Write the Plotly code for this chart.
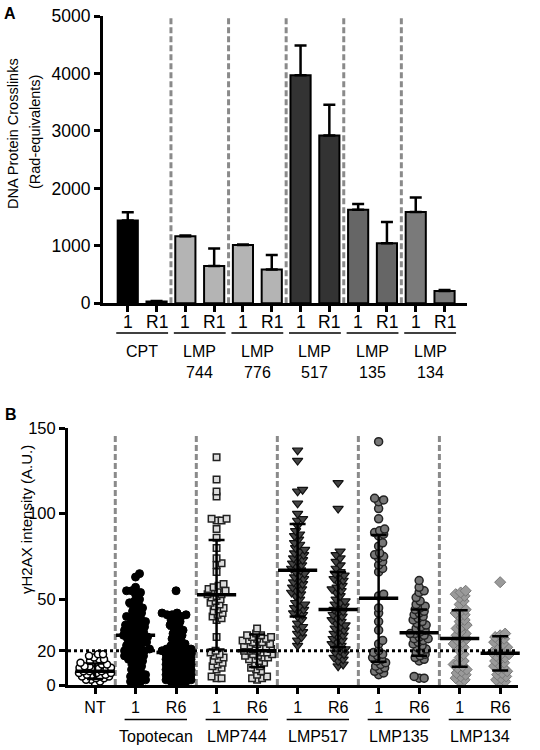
import plotly.graph_objects as go

# ---------------- Panel A data ----------------
a_labels = ["1", "R1"] * 6
a_groups = ["CPT", "LMP<br>744", "LMP<br>776", "LMP<br>517", "LMP<br>135", "LMP<br>134"]
a_values = [1440, 30, 1165, 650, 1015, 590, 3970, 2920, 1630, 1045, 1590, 215]
a_err = [145, 10, 15, 305, 10, 250, 515, 535, 100, 370, 250, 15]
a_group_colors = ["#000000", "#b4b4b4", "#b4b4b4", "#333333", "#666666", "#7a7a7a"]
a_yticks = [0, 1000, 2000, 3000, 4000, 5000]

# ---------------- Panel B data ----------------
b_labels = ["NT", "1", "R6", "1", "R6", "1", "R6", "1", "R6", "1", "R6"]
b_groups = ["Topotecan", "LMP744", "LMP517", "LMP135", "LMP134"]
b_yticks = [0, 20, 50, 100, 150]
b_threshold = 20

b_nt = [1, 2, 3, 3, 4, 4, 5, 5, 5, 6, 6, 6, 7, 7, 7, 8, 8, 8, 9, 9, 10, 10, 10, 11, 11,
        12, 12, 13, 13, 14, 15, 15, 16, 17, 18, 18]
b_topo_1 = [65, 63, 57, 55, 55, 54, 53, 50, 49, 48, 47, 46, 45, 44, 43, 42, 41, 40, 40, 39,
            38, 37, 36, 36, 35, 35, 34, 33, 33, 32, 32, 31, 30, 30, 29, 29, 28, 28, 27, 27,
            26, 25, 25, 24, 23, 23, 22, 21, 21, 20, 20, 19, 19, 18, 17, 17, 16, 15, 15, 14,
            13, 12, 11, 10, 9, 8, 7, 6, 5, 5, 4, 3, 2, 2, 1]
b_topo_r6 = [55, 42, 42, 41, 41, 41, 40, 39, 38, 37, 36, 35, 34, 33, 32, 31, 30, 29, 28, 27,
             26, 25, 24, 23, 22, 22, 21, 21, 20, 20, 20, 19, 19, 18, 18, 17, 17, 16, 16, 15,
             15, 14, 14, 13, 13, 12, 12, 11, 11, 10, 10, 9, 9, 8, 8, 7, 7, 6, 6, 5, 5, 4, 4,
             3, 3, 2, 2, 1, 1]
b_744_1 = [133, 120, 113, 110, 97, 97, 96, 96, 91, 86, 80, 74, 71, 70, 66, 59, 58, 57, 56, 55,
           55, 54, 53, 53, 52, 51, 50, 49, 48, 47, 46, 45, 44, 43, 42, 41, 40, 39, 38, 28,
           20, 19, 18, 17, 16, 15, 14, 13, 12, 11, 10, 9, 5, 4, 4]
b_744_r6 = [33, 30, 29, 29, 28, 28, 27, 27, 26, 26, 25, 25, 24, 24, 23, 23, 22, 22, 21, 21,
            20, 20, 20, 19, 19, 18, 18, 17, 17, 16, 16, 15, 15, 14, 13, 12, 11, 10, 9, 8,
            6, 5, 4, 4, 3]
b_517_1 = [137, 131, 114, 113, 106, 100, 97, 96, 93, 90, 88, 87, 85, 83, 82, 80, 79, 78, 77,
           76, 75, 74, 73, 72, 71, 70, 69, 68, 67, 66, 65, 64, 63, 62, 61, 60, 59, 58, 57,
           56, 55, 54, 53, 52, 50, 48, 47, 46, 45, 44, 43, 42, 41, 40, 38, 36, 34, 33, 31,
           30, 28, 26, 23]
b_517_r6 = [118, 103, 78, 76, 74, 72, 70, 68, 66, 65, 64, 63, 62, 61, 60, 58, 57, 56, 55, 54,
            52, 50, 49, 48, 47, 46, 45, 44, 43, 42, 41, 40, 39, 38, 37, 36, 35, 34, 33, 32,
            31, 30, 29, 28, 27, 26, 25, 24, 23, 22, 21, 20, 19, 18, 17, 16, 15, 14, 12, 11]
b_135_1 = [142, 109, 108, 107, 103, 97, 91, 90, 89, 88, 87, 83, 81, 77, 76, 75, 74, 72, 70,
           68, 66, 53, 52, 45, 42, 37, 32, 26, 24, 20, 19, 18, 17, 16, 15, 14, 13, 12, 11,
           10, 9, 8, 7, 6]
b_135_r6 = [61, 57, 55, 54, 51, 49, 47, 46, 45, 44, 43, 42, 41, 40, 39, 38, 37, 36, 35, 34,
            33, 32, 31, 30, 30, 29, 28, 27, 27, 26, 25, 24, 23, 22, 21, 20, 19, 18, 17, 16,
            15, 14, 5, 4, 4]
b_134_1 = [55, 54, 53, 52, 51, 49, 47, 44, 43, 42, 41, 40, 38, 37, 35, 34, 33, 31, 30, 29,
           28, 27, 26, 25, 24, 23, 22, 20, 18, 16, 14, 13, 12, 11, 10, 9, 8, 7, 6, 5, 4, 3, 2]
b_134_r6 = [60, 30, 29, 28, 27, 26, 25, 24, 23, 22, 21, 20, 19, 18, 18, 17, 16, 15, 14, 13,
            12, 11, 10, 9, 8, 7, 6, 5, 4, 3, 2, 1]

b_means = [8, 29, 19, 52.7, 20, 67, 44, 50.6, 30.5, 27.2, 18.5]
b_sds = [4.5, 17, 14, 32, 9.5, 27, 22, 37, 13.5, 16.5, 10]

b_series = [b_nt, b_topo_1, b_topo_r6, b_744_1, b_744_r6, b_517_1, b_517_r6,
            b_135_1, b_135_r6, b_134_1, b_134_r6]

# ---------------- geometry (page pixels) ----------------
FONT = "Liberation Sans, Arial, sans-serif"
W, H = 540, 750


def px(x):
    return x / W


def py(y):
    return 1 - y / H


A_X = (103, 467)
A_Y = (16, 303.3)
A_XR = [-0.86, 11.78]
B_X = (68, 518)
B_Y = (428, 685)
B_XR = [-0.667, 10.44]
B_YR = [0, 150]

b_styles = [
    dict(symbol="circle", color="white", line=dict(color="black", width=1.5), size=7),
    dict(symbol="circle", color="black", line=dict(color="black", width=1), size=8),
    dict(symbol="circle", color="black", line=dict(color="black", width=1), size=8),
    dict(symbol="square", color="#dcdcdc", line=dict(color="#222222", width=1.5), size=6.5),
    dict(symbol="square", color="#dcdcdc", line=dict(color="#222222", width=1.5), size=6.5),
    dict(symbol="triangle-down", color="#444444", line=dict(color="#111111", width=1.2), size=9),
    dict(symbol="triangle-down", color="#444444", line=dict(color="#111111", width=1.2), size=9),
    dict(symbol="circle", color="#777777", line=dict(color="#222222", width=1.5), size=8),
    dict(symbol="circle", color="#777777", line=dict(color="#222222", width=1.5), size=8),
    dict(symbol="diamond", color="#9a9a9a", line=dict(color="#777777", width=1), size=8.5),
    dict(symbol="diamond", color="#9a9a9a", line=dict(color="#777777", width=1), size=8.5),
]


def swarm(vals, ppy, d, maxw):
    """Deterministic beeswarm offsets (pixels) for sorted values, capped at maxw."""
    placed = []
    offs = []
    cands = [0.0]
    k = 1
    while 0.5 * k <= maxw:
        cands += [0.5 * k, -0.5 * k]
        k += 1
    for v in vals:
        y = v * ppy
        best, best_gap = 0.0, -1.0
        chosen = None
        for o in cands:
            gap = min([(o - xo) ** 2 + (y - yo) ** 2 for xo, yo in placed] or [1e9])
            if gap >= d * d:
                chosen = o
                break
            if gap > best_gap:
                best, best_gap = o, gap
        if chosen is None:
            chosen = best
        placed.append((chosen, y))
        offs.append(chosen)
    return offs


fig = go.Figure()

# ---------------- Panel A ----------------
bar_colors = []
for c in a_group_colors:
    bar_colors += [c, c]

fig.add_trace(go.Bar(
    x=list(range(len(a_values))), y=a_values, width=0.7,
    marker=dict(color=bar_colors, line=dict(color="black", width=2)),
    error_y=dict(type="data", symmetric=False, array=a_err, arrayminus=[0] * len(a_err),
                 color="black", thickness=2.5, width=6),
    xaxis="x", yaxis="y", showlegend=False,
))

# ---------------- Panel B ----------------
ppx_b = (B_X[1] - B_X[0]) / (B_XR[1] - B_XR[0])
ppy_b = (B_Y[1] - B_Y[0]) / (B_YR[1] - B_YR[0])

for i, vals in enumerate(b_series):
    sv = sorted(vals)
    offs = swarm(sv, ppy_b, 5.0, 16)
    xs = [i + o / ppx_b for o in offs]
    fig.add_trace(go.Scatter(
        x=xs, y=sv, mode="markers", marker=b_styles[i], cliponaxis=False,
        xaxis="x2", yaxis="y2", showlegend=False, hoverinfo="y",
    ))

fig.add_trace(go.Scatter(
    x=list(range(len(b_means))), y=b_means, mode="markers",
    marker=dict(symbol="line-ew", size=28, line=dict(color="black", width=3.5)),
    error_y=dict(type="data", array=b_sds, color="black", thickness=2.5, width=8),
    xaxis="x2", yaxis="y2", showlegend=False, cliponaxis=False,
))

shapes = []
n_a = len(a_groups)
for g in range(n_a - 1):
    xs = 2 * g + 1.5
    shapes.append(dict(type="line", xref="x", yref="y", x0=xs, x1=xs, y0=0, y1=a_yticks[-1],
                       line=dict(color="#8a8a8a", width=3, dash="6px,3px"), layer="below"))
for g in range(n_a):
    shapes.append(dict(type="line", xref="x", yref="paper", x0=2 * g - 0.4, x1=2 * g + 1.4,
                       y0=py(333), y1=py(333), line=dict(color="black", width=1.5)))

for g in range(len(b_groups)):
    xs = 2 * g + 0.5
    shapes.append(dict(type="line", xref="x2", yref="y2", x0=xs, x1=xs, y0=0, y1=147,
                       line=dict(color="#8a8a8a", width=3, dash="6px,3px"), layer="below"))
shapes.append(dict(type="line", xref="x2", yref="y2", x0=B_XR[0], x1=B_XR[1],
                   y0=b_threshold, y1=b_threshold,
                   line=dict(color="black", width=3, dash="dot")))
for g in range(len(b_groups)):
    shapes.append(dict(type="line", xref="x2", yref="paper", x0=2 * g + 1 - 0.27,
                       x1=2 * g + 2 + 0.27, y0=py(719.5), y1=py(719.5),
                       line=dict(color="black", width=1.5)))

annotations = []
for i, lab in enumerate(a_labels):
    annotations.append(dict(text=lab, xref="x", yref="paper", x=i, y=py(321.5),
                            xanchor="center", yanchor="middle", showarrow=False,
                            font=dict(family=FONT, size=17.5, color="black")))
for g, name in enumerate(a_groups):
    annotations.append(dict(text=name, xref="x", yref="paper", x=2 * g + 0.5, y=py(341),
                            xanchor="center", yanchor="top", showarrow=False,
                            font=dict(family=FONT, size=16, color="black")))
for g, name in enumerate(b_groups):
    annotations.append(dict(text=name, xref="x2", yref="paper", x=2 * g + 1.5, y=py(736),
                            xanchor="center", yanchor="middle", showarrow=False,
                            font=dict(family=FONT, size=16, color="black")))
annotations += [
    dict(text="<b>A</b>", xref="paper", yref="paper", x=px(10), y=py(13.5), showarrow=False,
         xanchor="center", yanchor="middle", font=dict(family=FONT, size=16, color="black")),
    dict(text="<b>B</b>", xref="paper", yref="paper", x=px(11), y=py(414), showarrow=False,
         xanchor="center", yanchor="middle", font=dict(family=FONT, size=16, color="black")),
    dict(text="DNA Protein Crosslinks", xref="paper", yref="paper", x=px(13), y=py(134),
         textangle=-90, showarrow=False, xanchor="center", yanchor="middle",
         font=dict(family=FONT, size=14.5, color="black")),
    dict(text="(Rad-equivalents)", xref="paper", yref="paper", x=px(35), y=py(132),
         textangle=-90, showarrow=False, xanchor="center", yanchor="middle",
         font=dict(family=FONT, size=14.5, color="black")),
    dict(text="γH2AX intensity (A.U.)", xref="paper", yref="paper", x=px(26), y=py(520),
         textangle=-90, showarrow=False, xanchor="center", yanchor="middle",
         font=dict(family=FONT, size=15, color="black")),
]

axis_common = dict(showline=True, linecolor="black", linewidth=3, ticks="outside",
                   ticklen=6, tickwidth=2.5, tickcolor="black", showgrid=False,
                   zeroline=False, automargin=False, ticklabeloverflow="allow")

fig.update_layout(
    template="none",
    width=W, height=H, margin=dict(l=0, r=0, t=0, b=0, pad=0),
    paper_bgcolor="white", plot_bgcolor="white",
    font=dict(family=FONT, color="black"),
    xaxis=dict(domain=[px(A_X[0]), px(A_X[1])], range=A_XR, anchor="y",
               tickvals=list(range(len(a_labels))), showticklabels=False, **axis_common),
    yaxis=dict(domain=[py(A_Y[1]), py(A_Y[0])], range=[0, a_yticks[-1]], anchor="x",
               tickvals=a_yticks,
               tickfont=dict(family=FONT, size=17.5, color="black"), **axis_common),
    xaxis2=dict(domain=[px(B_X[0]), px(B_X[1])], range=B_XR, anchor="y2",
                tickvals=list(range(len(b_labels))), ticktext=b_labels,
                tickfont=dict(family=FONT, size=16, color="black"), **axis_common),
    yaxis2=dict(domain=[py(B_Y[1]), py(B_Y[0])], range=B_YR, anchor="x2",
                tickvals=b_yticks,
                tickfont=dict(family=FONT, size=16.5, color="black"), **axis_common),
    shapes=shapes, annotations=annotations, bargap=0.3, showlegend=False,
)

fig.write_html(
    "out.html",
    config={"displayModeBar": False},
    post_script="document.body.style.margin='0';document.body.style.overflow='hidden';",
)
